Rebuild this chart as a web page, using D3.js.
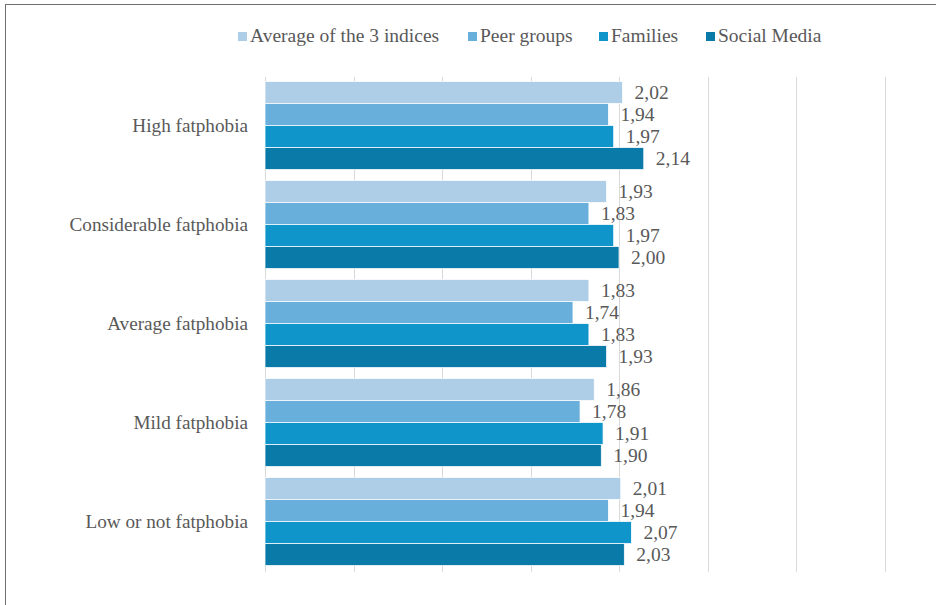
<!DOCTYPE html>
<html>
<head>
<meta charset="utf-8">
<script src="https://cdn.jsdelivr.net/npm/d3@7"></script>
<style>
  html, body { margin: 0; padding: 0; background: #fff; }
  svg { display: block; }
  text { font-family: 'Liberation Serif', 'Times New Roman', serif; }
</style>
</head>
<body>
<div class="container"></div>
<script>
const categories = ['High fatphobia', 'Considerable fatphobia', 'Average fatphobia', 'Mild fatphobia', 'Low or not fatphobia'];
const seriesNames = ['Average of the 3 indices', 'Peer groups', 'Families', 'Social Media'];
const seriesColors = ['#aecde6', '#69afdb', '#0f95c9', '#0a7aa8'];
const averageValues = [2.02, 1.93, 1.83, 1.86, 2.01];
const peerValues = [1.94, 1.83, 1.74, 1.78, 1.94];
const familyValues = [1.97, 1.97, 1.83, 1.91, 2.07];
const socialValues = [2.14, 2.00, 1.93, 1.90, 2.03];
const gridTicks = [0, 0.5, 1, 1.5, 2, 2.5, 3, 3.5, 4];

const width = 936, height = 605;
const seriesValues = [averageValues, peerValues, familyValues, socialValues];

const rows = categories.map((c, i) => ({
    name: c,
    values: seriesNames.map((s, j) => ({ series: s, idx: j, value: seriesValues[j][i] }))
}));

const svg = d3.select('.container')
    .append('svg')
    .attr('width', width)
    .attr('height', height);

// outer frame, runs past the visible area on the right and bottom
svg.append('rect')
    .attr('x', 5.5).attr('y', 4.5)
    .attr('width', width + 20).attr('height', height + 20)
    .attr('fill', 'none')
    .attr('stroke', '#6f6f6f')
    .attr('stroke-width', 1);

const x = d3.scaleLinear().domain([0, 4]).range([265, 973]);
const y0 = d3.scaleBand().domain(categories).range([76, 571]).paddingInner(0.11).paddingOuter(0.055);
const y1 = d3.scaleBand().domain(seriesNames).range([0, y0.bandwidth()]);

// grid
svg.append('g')
    .selectAll('line')
    .data(gridTicks)
    .join('line')
    .attr('x1', d => Math.round(x(d)) + 0.5)
    .attr('x2', d => Math.round(x(d)) + 0.5)
    .attr('y1', 77)
    .attr('y2', 572)
    .attr('stroke', '#d9d9d9')
    .attr('stroke-width', 1);

const group = svg.append('g')
    .selectAll('g')
    .data(rows)
    .join('g')
    .attr('transform', d => `translate(0,${y0(d.name)})`);

group.selectAll('rect')
    .data(d => d.values)
    .join('rect')
    .attr('x', x(0))
    .attr('y', d => y1(d.series))
    .attr('width', d => x(d.value) - x(0))
    .attr('height', y1.bandwidth())
    .attr('fill', d => seriesColors[d.idx])
    .attr('stroke', '#fff')
    .attr('stroke-width', 0.75);

group.selectAll('text')
    .data(d => d.values)
    .join('text')
    .attr('x', d => x(d.value) + 12)
    .attr('y', d => y1(d.series) + y1.bandwidth() / 2)
    .attr('dy', '0.35em')
    .attr('font-size', 19.5)
    .attr('fill', '#595959')
    .text(d => d.value.toFixed(2).replace('.', ','));

// category labels
svg.append('g')
    .selectAll('text')
    .data(categories)
    .join('text')
    .attr('x', 248)
    .attr('y', d => y0(d) + y0.bandwidth() / 2)
    .attr('dy', '0.35em')
    .attr('text-anchor', 'end')
    .attr('font-size', 19.2)
    .attr('fill', '#595959')
    .text(d => d);

// legend
const legendX = [237, 467, 598, 705];
const legend = svg.append('g')
    .selectAll('g')
    .data(seriesNames)
    .join('g')
    .attr('transform', (d, i) => `translate(${legendX[i]},35)`);

legend.append('rect')
    .attr('x', 1).attr('y', -3)
    .attr('width', 9).attr('height', 9)
    .attr('fill', (d, i) => seriesColors[i]);

legend.append('text')
    .attr('x', 13)
    .attr('dy', '0.35em')
    .attr('font-size', 19.5)
    .attr('fill', '#595959')
    .text(d => d);
</script>
</body>
</html>
